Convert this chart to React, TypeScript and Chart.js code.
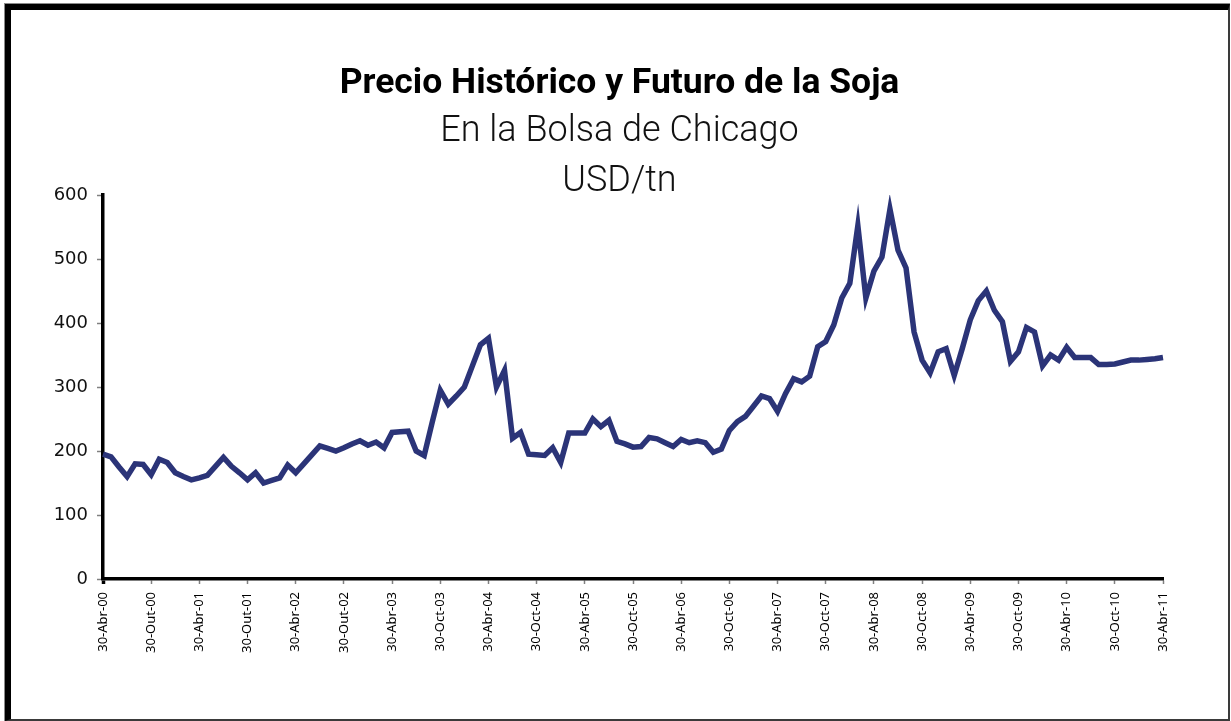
import React, { useEffect, useRef } from "react";
import { Chart, registerables } from "chart.js";

Chart.register(...registerables);

// Tick labels of the category axis (one every 6 months)
const tickLabels = [
  "30-Abr-00", "30-Out-00", "30-Abr-01", "30-Out-01", "30-Abr-02", "30-Out-02",
  "30-Abr-03", "30-Oct-03", "30-Abr-04", "30-Oct-04", "30-Abr-05", "30-Oct-05",
  "30-Abr-06", "30-Oct-06", "30-Abr-07", "30-Oct-07", "30-Abr-08", "30-Oct-08",
  "30-Abr-09", "30-Oct-09", "30-Abr-10", "30-Oct-10", "30-Abr-11",
];
const monthsPerLabel = 6;

// Monthly soybean price, USD/tn
const prices2000to2002 = [
  195, 191, 175, 160, 180, 179, 163, 187, 182, 166, 160, 155,
  158, 162, 176, 190, 176, 166, 155, 166, 150, 154, 158, 178,
  166, 180, 194, 208, 204, 200, 205, 211, 216, 209, 214, 205,
];
const prices2003to2005 = [
  229, 230, 231, 200, 193, 245, 295, 273, 286, 300, 333, 366,
  376, 300, 326, 220, 229, 195, 194, 193, 205, 182, 228, 228,
  228, 250, 238, 248, 215, 211, 206, 207, 221, 219, 213, 207,
];
const prices2006to2008 = [
  218, 213, 216, 213, 198, 203, 232, 246, 254, 270, 286, 282,
  262, 290, 313, 308, 317, 363, 371, 397, 439, 462, 552, 439,
  481, 503, 578, 514, 486, 386, 342, 322, 355, 360, 318, 360,
];
const prices2009to2011 = [
  405, 435, 450, 420, 402, 340, 355, 393, 386, 333, 350, 342,
  362, 346, 346, 346, 335, 335, 336, 339, 342, 342, 343, 344,
  346,
];
const prices = [...prices2000to2002, ...prices2003to2005, ...prices2006to2008, ...prices2009to2011];
const categories = prices.map((_, i) =>
  i % monthsPerLabel === 0 ? tickLabels[i / monthsPerLabel] : ""
);

const yMin = 0;
const yMax = 600;
const yStep = 100;

const titleText = "Precio Histórico y Futuro de la Soja";
const subtitleLines = ["En la Bolsa de Chicago", "USD/tn"];

export default function App() {
  const canvasRef = useRef<HTMLCanvasElement | null>(null);

  useEffect(() => {
    if (!canvasRef.current) return;
    const chart = new Chart(canvasRef.current, {
      type: "line",
      data: {
        labels: categories,
        datasets: [
          {
            data: prices,
            borderColor: "#2b3478",
            backgroundColor: "#2b3478",
            borderWidth: 5.5,
            pointRadius: 0,
            pointHoverRadius: 0,
            tension: 0,
            fill: false,
            yAxisID: "y",
          },
        ],
      },
      options: {
        animation: false,
        responsive: true,
        maintainAspectRatio: false,
        layout: { padding: { top: 0, left: 0, right: 0, bottom: 0 } },
        plugins: {
          legend: { display: false },
          tooltip: { enabled: false },
          title: {
            display: true,
            text: titleText,
            color: "#000",
            font: { family: "Roboto", size: 35.5, weight: "bold", lineHeight: 1.2 },
            padding: { top: 52.7, bottom: 0 },
          },
          subtitle: {
            display: true,
            text: subtitleLines,
            color: "#111",
            font: { family: "Roboto", size: 36, weight: "300", lineHeight: 1.3889 },
            padding: { top: 1.7, bottom: -12 },
          },
        },
        scales: {
          x: {
            type: "category",
            offset: false,
            border: { display: true, color: "#000", width: 3.5 },
            grid: {
              offset: false,
              drawOnChartArea: false,
              drawTicks: true,
              tickLength: 5,
              tickWidth: (ctx: any) => (ctx.index === 0 ? 3.5 : 1.5),
              tickColor: (ctx: any) =>
                ctx.index === 0
                  ? "#000"
                  : ctx.index % monthsPerLabel === 0
                  ? "#808080"
                  : "rgba(0,0,0,0)",
            },
            ticks: {
              autoSkip: false,
              maxRotation: 90,
              minRotation: 90,
              padding: 8,
              color: "#000",
              font: { family: "'Noto Sans'", size: 13 },
              callback: (_v: any, i: number) => categories[i],
            },
            afterFit: (scale: any) => {
              scale.height = 140;
            },
          },
          y: {
            position: "left",
            min: yMin,
            max: yMax,
            border: { display: true, color: "#000", width: 3.5 },
            grid: {
              drawOnChartArea: false,
              drawTicks: true,
              tickLength: 6,
              tickWidth: 1.5,
              tickColor: "#808080",
            },
            ticks: {
              stepSize: yStep,
              padding: 9,
              color: "#111",
              font: { family: "DejaVu Sans", size: 18 },
            },
            afterFit: (scale: any) => {
              scale.width = 92;
            },
          },
          rightSpace: {
            position: "right",
            min: yMin,
            max: yMax,
            border: { display: false },
            grid: { display: false, drawTicks: false },
            ticks: { display: false },
            afterFit: (scale: any) => {
              scale.width = 65;
            },
          },
        },
      },
    });
    return () => chart.destroy();
  }, []);

  return (
    <div
      style={{
        position: "absolute",
        left: 4,
        top: 3,
        width: 1226,
        height: 718,
        boxSizing: "border-box",
        borderLeft: "1px solid #8a8a8a",
        borderTop: "1px solid #8a8a8a",
        background: "#fff",
      }}
    >
      <div
        style={{
          width: "100%",
          height: "100%",
          boxSizing: "border-box",
          borderLeft: "6px solid #000",
          borderTop: "6px solid #000",
          borderRight: "2px solid #3a3a3a",
          borderBottom: "2px solid #3a3a3a",
        }}
      >
        <div style={{ position: "relative", width: 1217, height: 709 }}>
          <canvas ref={canvasRef} />
        </div>
      </div>
    </div>
  );
}
